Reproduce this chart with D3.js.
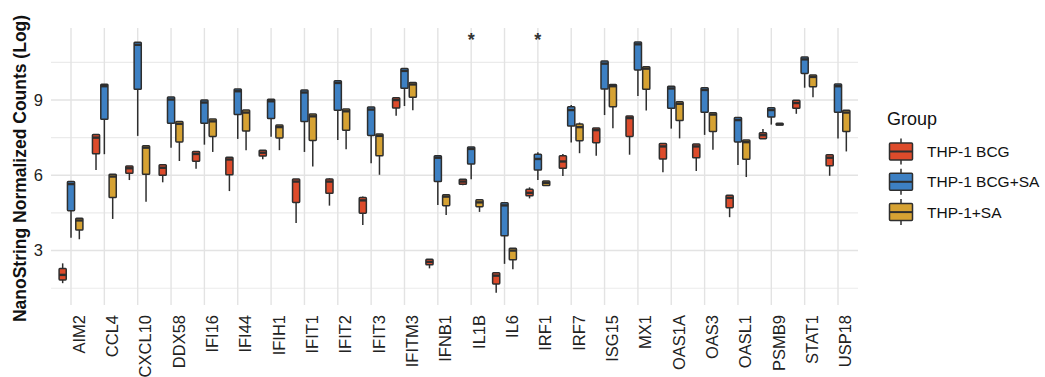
<!DOCTYPE html>
<html>
<head>
<meta charset="utf-8">
<script src="https://cdn.jsdelivr.net/npm/d3@7/dist/d3.min.js"></script>
<style>
  html, body { margin: 0; padding: 0; background: #fff; }
  svg { display: block; font-family: "Liberation Sans", Arial, sans-serif; }
</style>
</head>
<body>
<svg id="chart" width="1045" height="377"></svg>
<script>
// Genes on the x axis
const genes = ["AIM2","CCL4","CXCL10","DDX58","IFI16","IFI44","IFIH1","IFIT1","IFIT2","IFIT3",
  "IFITM3","IFNB1","IL1B","IL6","IRF1","IRF7","ISG15","MX1","OAS1A","OAS3","OASL1","PSMB9","STAT1","USP18"];

const groups = ["THP-1 BCG", "THP-1 BCG+SA", "THP-1+SA"];
const groupColors = ["#dd4b2b", "#3d80c3", "#d6a233"];

// Box statistics per gene: [lower whisker, Q1, median, Q3, upper whisker]
const statsBCG = [
  [1.70,1.83,2.03,2.28,2.49],[6.21,6.86,7.50,7.63,7.63],[5.81,6.08,6.28,6.37,6.37],[5.72,6.00,6.30,6.42,6.45],
  [6.26,6.56,6.85,6.95,6.95],[5.37,6.02,6.63,6.72,6.72],[6.64,6.77,6.90,7.00,7.00],[4.10,4.92,5.75,5.85,5.85],
  [4.79,5.28,5.75,5.85,5.88],[4.02,4.49,5.00,5.11,5.15],[8.37,8.68,9.00,9.09,9.09],[2.29,2.43,2.55,2.65,2.65],
  [5.60,5.64,5.75,5.84,5.84],[1.32,1.67,2.00,2.12,2.15],[5.08,5.18,5.30,5.44,5.52],[5.97,6.28,6.55,6.78,6.85],
  [6.78,7.30,7.80,7.88,7.88],[6.82,7.55,8.28,8.36,8.36],[6.12,6.65,7.15,7.27,7.27],[6.17,6.70,7.15,7.25,7.25],
  [4.33,4.71,5.10,5.20,5.20],[7.46,7.46,7.60,7.70,7.84],[8.45,8.67,8.88,8.99,8.99],[5.98,6.38,6.70,6.82,6.82]
];
const statsBCGSA = [
  [3.51,4.59,5.65,5.75,5.75],[6.84,8.23,9.55,9.63,9.63],[7.57,9.43,11.20,11.30,11.30],[7.10,8.07,9.02,9.12,9.12],
  [7.22,8.07,8.90,9.00,9.00],[7.45,8.42,9.35,9.44,9.44],[7.54,8.26,8.95,9.03,9.03],[6.93,8.14,9.30,9.40,9.40],
  [7.41,8.59,9.68,9.77,9.77],[6.48,7.59,8.62,8.72,8.72],[8.76,9.47,10.16,10.26,10.26],[4.82,5.75,6.70,6.78,6.78],
  [5.84,6.45,7.05,7.13,7.13],[2.47,3.59,4.80,4.91,4.91],[5.81,6.21,6.65,6.84,6.92],[7.31,7.96,8.60,8.73,8.80],
  [8.40,9.44,10.45,10.55,10.55],[9.16,10.20,11.22,11.31,11.31],[7.86,8.67,9.46,9.55,9.55],[7.61,8.51,9.40,9.49,9.49],
  [6.41,7.33,8.20,8.30,8.30],[8.02,8.32,8.60,8.69,8.69],[9.49,10.06,10.62,10.71,10.71],[7.47,8.51,9.55,9.64,9.64]
];
const statsSA = [
  [3.45,3.82,4.20,4.29,4.29],[4.26,5.11,5.95,6.04,6.04],[4.95,6.04,7.10,7.18,7.18],[6.57,7.33,8.05,8.14,8.14],
  [6.93,7.55,8.15,8.24,8.24],[7.00,7.76,8.50,8.60,8.60],[7.00,7.49,7.92,8.00,8.00],[6.35,7.39,8.35,8.44,8.44],
  [7.04,7.79,8.55,8.64,8.64],[6.02,6.78,7.57,7.65,7.65],[8.59,9.11,9.62,9.70,9.70],[4.42,4.79,5.15,5.22,5.22],
  [4.54,4.75,4.92,5.02,5.02],[2.25,2.63,3.00,3.09,3.09],[5.59,5.59,5.70,5.77,5.77],[6.88,7.38,7.92,8.04,8.10],
  [7.87,8.73,9.55,9.62,9.62],[8.58,9.43,10.25,10.33,10.33],[7.47,8.18,8.85,8.93,8.93],[7.02,7.74,8.42,8.49,8.49],
  [5.93,6.64,7.32,7.41,7.41],[8.00,8.00,8.03,8.07,8.07],[9.11,9.53,9.92,10.00,10.00],[6.95,7.74,8.50,8.59,8.59]
];
const groupStats = [statsBCG, statsBCGSA, statsSA];

// Significance markers
const starGenes = ["IL1B", "IRF1"];
const starLevel = 11.47;

const yTicks = [3, 6, 9];
const yMinor = [1.5, 4.5, 7.5, 10.5];

const panel = { left: 51, right: 858, top: 28, bottom: 305 };
const svg = d3.select("#chart");

const x = d3.scalePoint().domain(genes).range([panel.left, panel.right]).padding(0.6);
const dodge = d3.scaleBand().domain(groups).range([-0.375 * x.step(), 0.375 * x.step()]);
const y = d3.scaleLinear().domain([0.83, 11.87]).range([panel.bottom, panel.top]);

// Grid
const grid = svg.append("g");
grid.selectAll("line.minor").data(yMinor).join("line")
  .attr("x1", panel.left).attr("x2", panel.right)
  .attr("y1", d => y(d)).attr("y2", d => y(d))
  .attr("stroke", "#ebebeb").attr("stroke-width", 1.1);
grid.selectAll("line.major").data(yTicks).join("line")
  .attr("x1", panel.left).attr("x2", panel.right)
  .attr("y1", d => y(d)).attr("y2", d => y(d))
  .attr("stroke", "#e3e3e3").attr("stroke-width", 1.4);
grid.selectAll("line.vx").data(genes).join("line")
  .attr("x1", d => x(d)).attr("x2", d => x(d))
  .attr("y1", panel.top).attr("y2", panel.bottom)
  .attr("stroke", "#e3e3e3").attr("stroke-width", 1.4);

// Y axis labels
const yAxis = d3.axisLeft(y).tickValues(yTicks).tickSize(0).tickPadding(7).tickFormat(d3.format("d"));
const yg = svg.append("g").attr("transform", `translate(${panel.left - 1},0)`).call(yAxis);
yg.select(".domain").remove();
yg.selectAll("text").attr("font-size", 16.5).attr("fill", "#222")
  .attr("font-family", "Liberation Sans, Arial, sans-serif");

// X axis labels (vertical)
const xAxis = d3.axisBottom(x).tickSize(0);
const xg = svg.append("g").attr("transform", `translate(0,${panel.bottom})`).call(xAxis);
xg.select(".domain").remove();
xg.selectAll("text")
  .attr("font-size", 16.5).attr("fill", "#222")
  .attr("font-family", "Liberation Sans, Arial, sans-serif")
  .attr("text-anchor", "end")
  .attr("dy", null).attr("y", null)
  .attr("transform", "translate(13,10) rotate(-90)");

// Y title
svg.append("text")
  .attr("transform", `translate(25.5,${(panel.top + panel.bottom) / 2 + 2}) rotate(-90)`)
  .attr("text-anchor", "middle")
  .attr("font-size", 17.5).attr("font-weight", "bold").attr("fill", "#111")
  .text("NanoString Normalized Counts (Log)");

// Boxplots
const ink = "#2e2e2e";
const boxW = dodge.bandwidth();
groups.forEach((g, gi) => {
  const layer = svg.append("g");
  const rows = genes.map((gene, i) => ({ gene, s: groupStats[gi][i] }));
  const cx = d => x(d.gene) + dodge(g) + boxW / 2;
  // whiskers
  layer.selectAll("line.wlo").data(rows).join("line")
    .attr("x1", cx).attr("x2", cx)
    .attr("y1", d => y(d.s[0])).attr("y2", d => y(d.s[1]))
    .attr("stroke", ink).attr("stroke-width", 1.5);
  layer.selectAll("line.whi").data(rows).join("line")
    .attr("x1", cx).attr("x2", cx)
    .attr("y1", d => y(d.s[3])).attr("y2", d => y(d.s[4]))
    .attr("stroke", ink).attr("stroke-width", 1.5);
  // boxes
  layer.selectAll("rect").data(rows).join("rect")
    .attr("x", d => cx(d) - boxW / 2 + 0.6)
    .attr("width", boxW - 1.2)
    .attr("y", d => y(d.s[3]))
    .attr("height", d => Math.max(1, y(d.s[1]) - y(d.s[3])))
    .attr("fill", groupColors[gi])
    .attr("stroke", ink).attr("stroke-width", 1.5).attr("rx", 0.8);
  // medians
  layer.selectAll("line.med").data(rows).join("line")
    .attr("x1", d => cx(d) - boxW / 2 + 0.6).attr("x2", d => cx(d) + boxW / 2 - 0.6)
    .attr("y1", d => y(d.s[2])).attr("y2", d => y(d.s[2]))
    .attr("stroke", ink).attr("stroke-width", 2.4);
});

// Significance stars
svg.selectAll("text.star").data(starGenes).join("text")
  .attr("class", "star")
  .attr("x", d => x(d)).attr("y", y(starLevel) + 8)
  .attr("text-anchor", "middle").attr("font-size", 18).attr("font-weight", "bold")
  .attr("fill", "#333")
  .text("*");

// Legend
const legend = svg.append("g").attr("transform", "translate(887,0)");
legend.append("text").attr("x", 0).attr("y", 124.5)
  .attr("font-size", 18).attr("fill", "#111").text("Group");
groups.forEach((g, i) => {
  const cy = 151.5 + i * 30.3;
  const k = legend.append("g");
  k.append("line").attr("x1", 14).attr("x2", 14).attr("y1", cy - 13).attr("y2", cy + 13)
    .attr("stroke", ink).attr("stroke-width", 1.5);
  k.append("rect").attr("x", 2.5).attr("y", cy - 8.5).attr("width", 23).attr("height", 17)
    .attr("fill", groupColors[i]).attr("stroke", ink).attr("stroke-width", 1.5).attr("rx", 1);
  k.append("line").attr("x1", 2.5).attr("x2", 25.5).attr("y1", cy).attr("y2", cy)
    .attr("stroke", ink).attr("stroke-width", 2);
  legend.append("text").attr("x", 40).attr("y", cy + 5.5)
    .attr("font-size", 15.5).attr("fill", "#111").text(g);
});
</script>
</body>
</html>
